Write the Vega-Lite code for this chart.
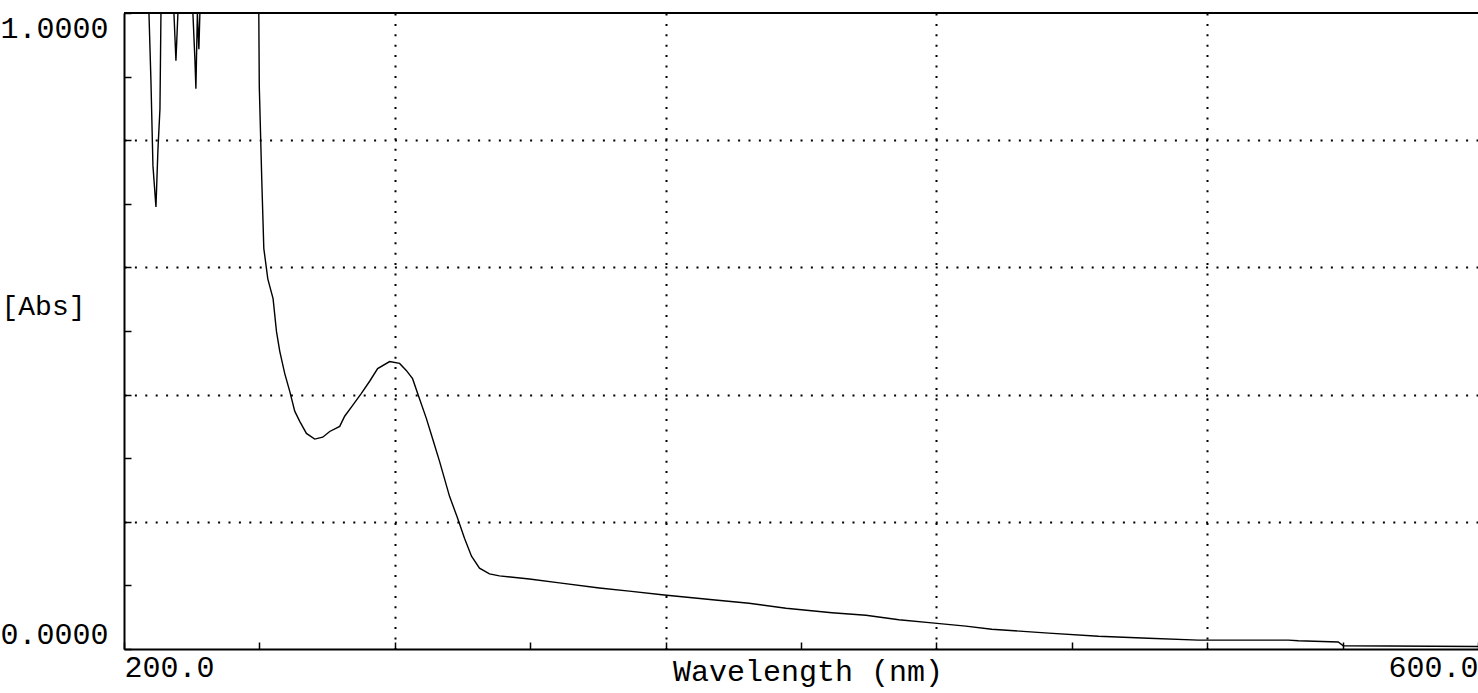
{
  "$schema": "https://vega.github.io/schema/vega-lite/v6.json",
  "width": 1354,
  "height": 636,
  "autosize": {"type": "none"},
  "padding": {"left": 124, "top": 13, "right": 0, "bottom": 44},
  "background": "white",
  "config": {"view": {"stroke": null}, "font": "Liberation Mono"},
  "layer": [
    {
      "data": {"values": [
        {"nm": 200.0, "abs": 1.0},
        {"nm": 207.37, "abs": 1.0},
        {"nm": 207.96, "abs": 0.893},
        {"nm": 208.55, "abs": 0.76},
        {"nm": 209.44, "abs": 0.695},
        {"nm": 210.03, "abs": 0.786},
        {"nm": 210.62, "abs": 0.849},
        {"nm": 210.92, "abs": 1.0},
        {"nm": 214.75, "abs": 1.0},
        {"nm": 215.34, "abs": 0.925},
        {"nm": 215.93, "abs": 1.0},
        {"nm": 220.35, "abs": 1.0},
        {"nm": 220.94, "abs": 0.928},
        {"nm": 221.24, "abs": 0.881},
        {"nm": 221.68, "abs": 1.0},
        {"nm": 222.12, "abs": 0.943},
        {"nm": 222.42, "abs": 1.0},
        {"nm": 239.82, "abs": 1.0},
        {"nm": 239.97, "abs": 0.884},
        {"nm": 240.71, "abs": 0.736},
        {"nm": 241.3, "abs": 0.63},
        {"nm": 242.48, "abs": 0.582},
        {"nm": 244.04, "abs": 0.551},
        {"nm": 245.05, "abs": 0.499},
        {"nm": 246.02, "abs": 0.468},
        {"nm": 247.49, "abs": 0.433},
        {"nm": 248.97, "abs": 0.405},
        {"nm": 250.44, "abs": 0.374},
        {"nm": 251.92, "abs": 0.358},
        {"nm": 253.89, "abs": 0.339},
        {"nm": 256.34, "abs": 0.33},
        {"nm": 258.7, "abs": 0.333},
        {"nm": 260.77, "abs": 0.342},
        {"nm": 263.72, "abs": 0.35},
        {"nm": 265.19, "abs": 0.366},
        {"nm": 267.55, "abs": 0.383},
        {"nm": 270.12, "abs": 0.402},
        {"nm": 272.57, "abs": 0.421},
        {"nm": 274.93, "abs": 0.441},
        {"nm": 278.47, "abs": 0.452},
        {"nm": 281.42, "abs": 0.449},
        {"nm": 283.39, "abs": 0.438},
        {"nm": 285.25, "abs": 0.425},
        {"nm": 286.73, "abs": 0.402},
        {"nm": 289.29, "abs": 0.363},
        {"nm": 291.15, "abs": 0.331},
        {"nm": 293.22, "abs": 0.295},
        {"nm": 296.17, "abs": 0.24},
        {"nm": 298.53, "abs": 0.206},
        {"nm": 300.59, "abs": 0.174},
        {"nm": 302.66, "abs": 0.146},
        {"nm": 305.02, "abs": 0.127},
        {"nm": 307.97, "abs": 0.118},
        {"nm": 310.92, "abs": 0.115},
        {"nm": 319.77, "abs": 0.11},
        {"nm": 328.62, "abs": 0.104},
        {"nm": 340.42, "abs": 0.096},
        {"nm": 349.26, "abs": 0.091},
        {"nm": 359.59, "abs": 0.085},
        {"nm": 374.63, "abs": 0.077},
        {"nm": 384.66, "abs": 0.072},
        {"nm": 395.58, "abs": 0.064},
        {"nm": 409.15, "abs": 0.057},
        {"nm": 419.18, "abs": 0.053},
        {"nm": 428.91, "abs": 0.046},
        {"nm": 438.65, "abs": 0.041},
        {"nm": 448.68, "abs": 0.036},
        {"nm": 456.35, "abs": 0.031},
        {"nm": 473.16, "abs": 0.025},
        {"nm": 487.91, "abs": 0.02},
        {"nm": 502.66, "abs": 0.017},
        {"nm": 517.41, "abs": 0.014},
        {"nm": 543.96, "abs": 0.014},
        {"nm": 546.91, "abs": 0.013},
        {"nm": 558.71, "abs": 0.011},
        {"nm": 560.18, "abs": 0.005},
        {"nm": 600.0, "abs": 0.004}
      ]},
      "mark": {"type": "line", "color": "black", "strokeWidth": 1.4, "clip": true},
      "encoding": {
        "x": {
          "field": "nm", "type": "quantitative",
          "scale": {"domain": [200, 600], "nice": false, "zero": false},
          "axis": {
            "values": [200, 240, 280, 320, 360, 400, 440, 480, 520, 560, 600],
            "labelExpr": "datum.value == 200 || datum.value == 600 ? format(datum.value, '.1f') : ''",
            "labelFlush": true,
            "labelOverlap": false,
            "labelBound": false,
            "labelFont": "Liberation Mono",
            "labelFontSize": 30,
            "labelColor": "black",
            "labelBaseline": "alphabetic",
            "labelPadding": 34,
            "ticks": true,
            "tickSize": -7,
            "tickColor": "black",
            "tickWidth": 1.5,
            "domain": true,
            "domainColor": "black",
            "domainWidth": 2,
            "grid": true,
            "gridColor": "black",
            "gridDash": [2, 8.4],
            "gridWidth": 2,
            "gridOpacity": {"condition": {"test": "(datum.value - 200) % 80 == 0 && datum.value > 200 && datum.value < 600", "value": 1}, "value": 0},
            "title": "Wavelength (nm)",
            "titleFont": "Liberation Mono",
            "titleFontSize": 30,
            "titleFontWeight": "normal",
            "titleColor": "black",
            "titleX": 683.5,
            "titleY": 31,
            "titleAlign": "center",
            "titleBaseline": "alphabetic"
          }
        },
        "y": {
          "field": "abs", "type": "quantitative",
          "scale": {"domain": [0, 1], "nice": false, "zero": true},
          "axis": {
            "values": [0, 0.1, 0.2, 0.3, 0.4, 0.5, 0.6, 0.7, 0.8, 0.9, 1],
            "labelExpr": "datum.value == 0 || datum.value == 1 ? format(datum.value, '.4f') : ''",
            "labelFlush": true,
            "labelOverlap": false,
            "labelBound": false,
            "labelFont": "Liberation Mono",
            "labelFontSize": 30,
            "labelColor": "black",
            "labelPadding": 23,
            "ticks": true,
            "tickSize": -7,
            "tickColor": "black",
            "tickWidth": 1.5,
            "domain": true,
            "domainColor": "black",
            "domainWidth": 2,
            "grid": true,
            "gridColor": "black",
            "gridDash": [2, 8.4],
            "gridWidth": 2,
            "gridOpacity": {"condition": {"test": "abs(datum.value * 5 - round(datum.value * 5)) < 0.01 && datum.value > 0 && datum.value < 1", "value": 1}, "value": 0},
            "title": "[Abs]",
            "titleAngle": 0,
            "titleFont": "Liberation Mono",
            "titleFontSize": 28,
            "titleFontWeight": "normal",
            "titleColor": "black",
            "titleX": -81,
            "titleY": 293,
            "titleAlign": "center",
            "titleBaseline": "middle"
          }
        }
      }
    },
    {
      "data": {"values": [{}]},
      "mark": {"type": "rule", "color": "black", "strokeWidth": 2},
      "encoding": {"y": {"datum": 1}}
    }
  ]
}
